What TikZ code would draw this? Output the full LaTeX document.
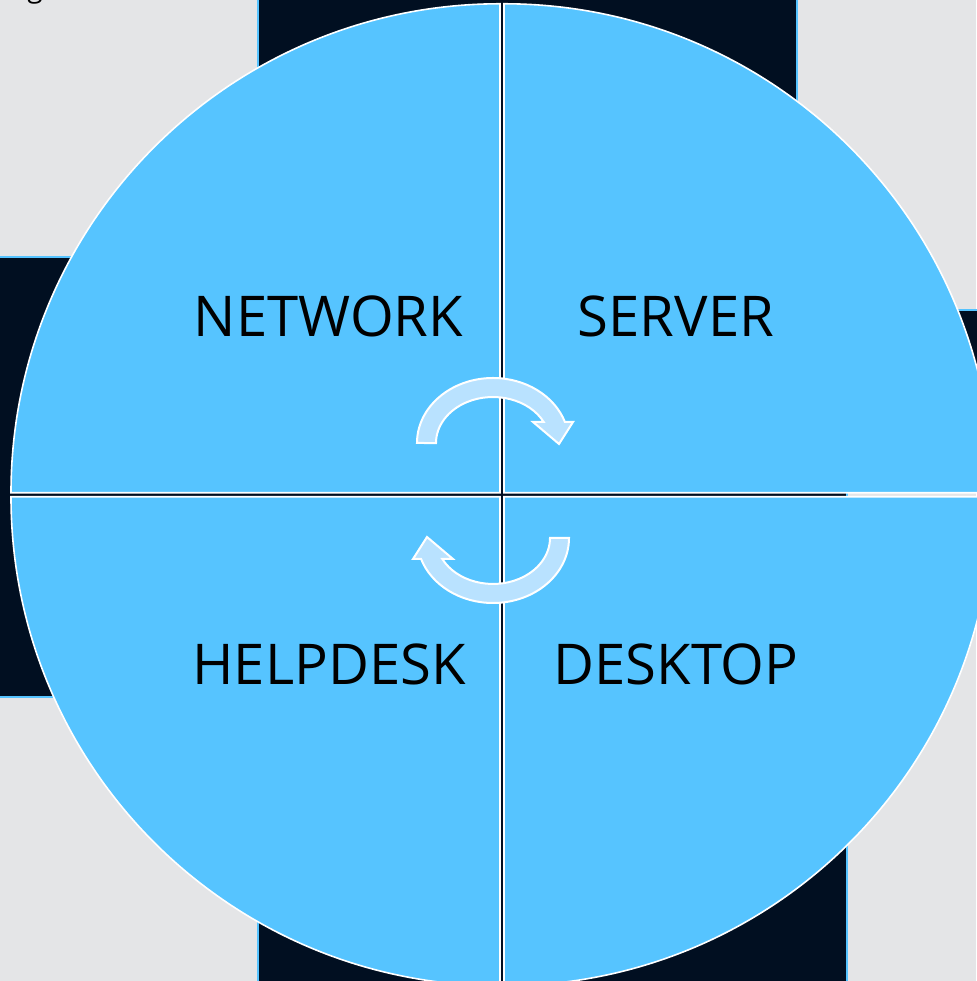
\documentclass[tikz,border=0pt]{standalone}
\usepackage{fontspec}
\setmainfont{Open Sans}
\definecolor{bggray}{HTML}{E4E5E7}
\definecolor{navy}{HTML}{010F21}
\definecolor{rectedge}{HTML}{55C3FF}
\definecolor{qblue}{HTML}{56C4FF}
\definecolor{arrowfill}{HTML}{B9E2FF}
\begin{document}
\begin{tikzpicture}[x=1pt,y=1pt,
  sector/.style={fill=qblue, draw=white, line width=1.6pt, line join=miter},
  navyrect/.style={fill=navy, draw=rectedge, line width=1.5pt},
  cyclearrow/.style={fill=arrowfill, draw=white, line width=2pt, line join=miter},
  sectorlabel/.style={font=\fontsize{56.2}{62}\selectfont, text=black, inner sep=0pt, anchor=base}
]
\useasboundingbox (0,0) rectangle (976,981);
\fill[bggray] (0,0) rectangle (976,981);
% background rectangles
\draw[navyrect] (258,481) rectangle (797,995);
\draw[navyrect] (258,-15) rectangle (847,501);
\draw[navyrect] (530,501) rectangle (995,671);
\draw[navyrect] (-10,284) rectangle (480,724);
\fill[navy] (270,300) rectangle (835,700);
% quarter sectors
\draw[sector] (500,488.2) -- ++(-489,0) arc[start angle=180,end angle=90,radius=489] -- cycle;
\draw[sector] (504,488.2) -- ++(0,489) arc[start angle=90,end angle=0,radius=489] -- cycle;
\draw[sector] (500,484.2) -- ++(0,-489) arc[start angle=270,end angle=180,radius=489] -- cycle;
\draw[sector] (504,484.2) -- ++(489,0) arc[start angle=0,end angle=-90,radius=489] -- cycle;
% cycle arrows
\path[cyclearrow] (417,538) arc[start angle=180,end angle=18.85,x radius=76,y radius=65]
  -- (573,559) -- (559,537) -- (533,559) -- (543.7,559)
  arc[start angle=27.2,end angle=180,x radius=57,y radius=46] -- cycle;
\begin{scope}[rotate around={180:(493,490.5)}]
\path[cyclearrow] (417,538) arc[start angle=180,end angle=18.85,x radius=76,y radius=65]
  -- (573,559) -- (559,537) -- (533,559) -- (543.7,559)
  arc[start angle=27.2,end angle=180,x radius=57,y radius=46] -- cycle;
\end{scope}
% labels
\node[sectorlabel] (network) at (328.5,644) {NETWORK};
\node[sectorlabel] (server) at (676,644) {SERVER};
\node[sectorlabel] (helpdesk) at (329,296) {HELPDESK};
\node[sectorlabel] (desktop) at (676,296) {DESKTOP};
\node[font=\fontsize{28}{30}\selectfont, inner sep=0pt, anchor=base] (gfrag) at (35,983) {g};
\end{tikzpicture}
\end{document}
